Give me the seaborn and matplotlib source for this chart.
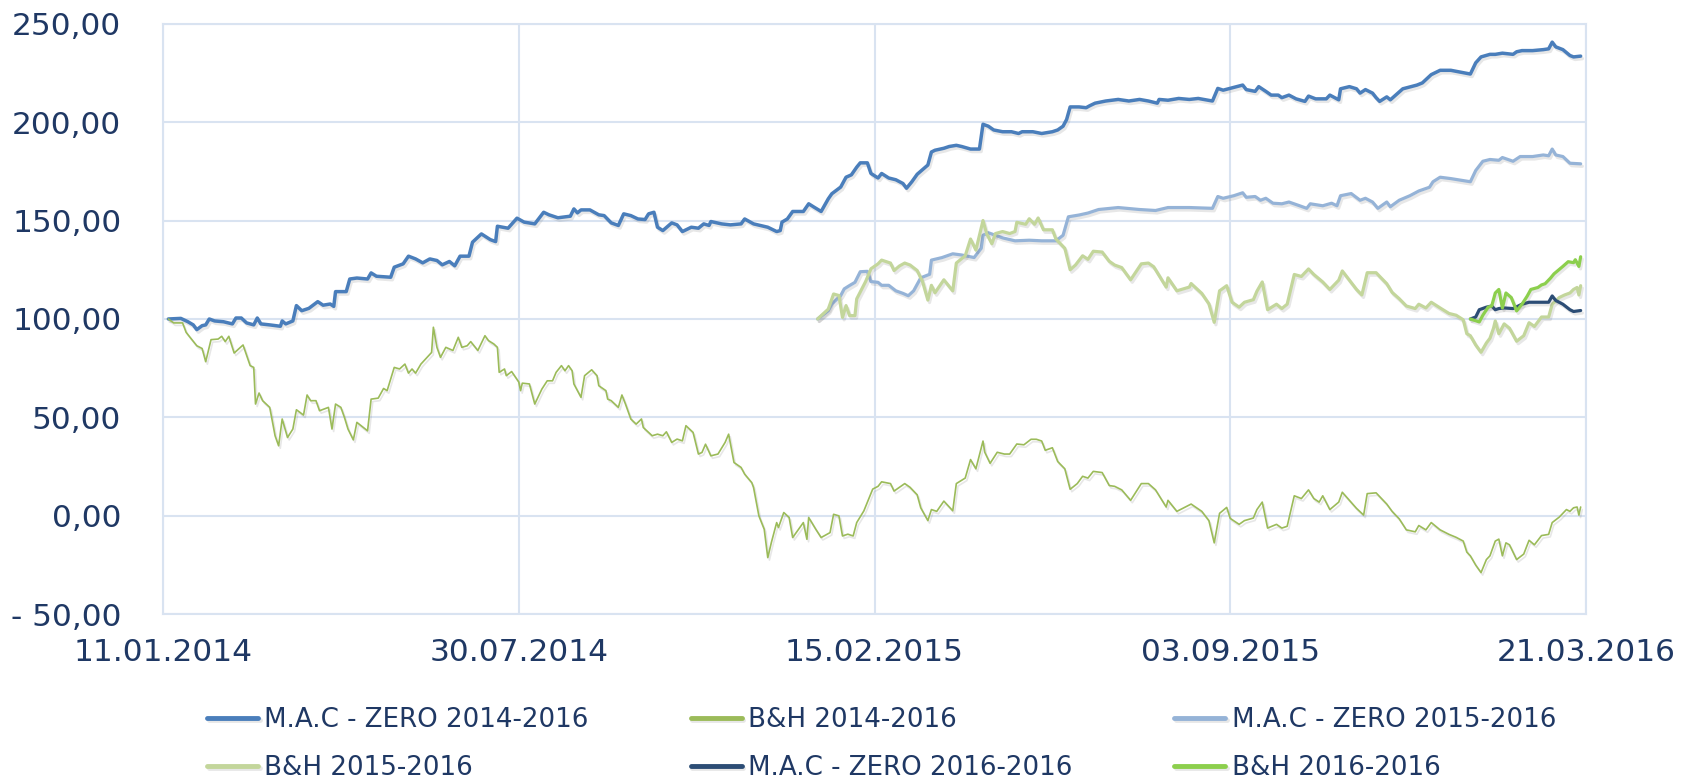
import matplotlib
matplotlib.use('Agg')
import matplotlib.pyplot as plt
import matplotlib.dates as mdates
import matplotlib.patheffects as pe
from matplotlib.ticker import FuncFormatter
import pandas as pd
import seaborn as sns

# series values (day = days after 11.01.2014)
mac14_days = [3, 10, 14, 17, 19, 22, 24, 26, 29, 34, 39, 41, 44, 47, 51, 53, 55, 60, 66, 67,
              69, 73, 75, 78, 82, 87, 90, 94, 96, 97, 103, 105, 109, 115, 117, 120, 128, 130, 135, 138,
              142, 146, 150, 154, 157, 161, 164, 167, 172, 174, 179, 184, 187, 188, 194, 199, 203, 209, 214, 217,
              222, 229, 231, 233, 235, 240, 245, 248, 252, 256, 259, 263, 267, 271, 273, 276, 278, 281, 286, 289,
              292, 297, 301, 304, 307, 308, 314, 319, 325, 327, 332, 340, 345, 347, 348, 351, 354, 360, 363, 366,
              370, 374, 376, 381, 384, 387, 390, 392, 396, 398, 402, 404, 408, 412, 416, 418, 421, 424, 430, 432,
              434, 439, 442, 446, 449, 454, 459, 460, 461, 464, 467, 472, 477, 481, 483, 489, 494, 500, 503, 506,
              508, 510, 515, 519, 521, 524, 530, 537, 543, 549, 554, 559, 560, 565, 571, 577, 582, 590, 593, 596,
              602, 607, 609, 614, 616, 620, 623, 627, 629, 633, 637, 642, 644, 648, 654, 656, 661, 662, 667, 671,
              673, 676, 680, 682, 684, 688, 690, 693, 697, 705, 708, 713, 718, 724, 735, 738, 741, 746, 749, 753,
              759, 761, 764, 770, 776, 779, 781, 783, 787, 791, 793, 797]
mac14_vals = [100.0, 100.3, 98.6, 97.0, 94.6, 96.6, 97.0, 100.0, 99.0, 98.6, 97.5, 100.5, 100.5, 98.0, 97.0, 100.5, 97.5, 97.0, 96.3, 99.0,
              97.5, 99.0, 106.8, 104.2, 105.4, 108.8, 107.0, 107.6, 106.4, 113.9, 113.9, 120.3, 120.8, 120.3, 123.4, 121.7, 121.2, 126.3, 128.0, 131.9,
              130.5, 128.5, 130.5, 129.7, 127.5, 129.2, 127.0, 131.9, 131.9, 139.0, 143.2, 140.3, 139.3, 147.1, 146.1, 151.2, 149.2, 148.3, 154.2, 152.9,
              151.4, 152.2, 155.9, 153.9, 155.4, 155.4, 152.9, 152.5, 148.8, 147.5, 153.4, 152.5, 150.8, 150.5, 153.4, 154.2, 146.6, 144.9, 148.8, 147.8,
              144.4, 146.6, 146.1, 148.3, 147.5, 149.5, 148.3, 147.8, 148.3, 150.8, 148.3, 146.6, 144.4, 144.9, 149.2, 150.8, 154.6, 154.6, 158.5, 156.8,
              154.6, 161.0, 163.6, 167.0, 172.0, 173.2, 177.1, 179.3, 179.3, 173.9, 171.6, 173.9, 171.6, 170.7, 168.8, 166.4, 169.7, 173.5, 178.2, 184.8,
              185.7, 186.7, 187.6, 188.2, 187.6, 186.3, 186.3, 192.7, 198.9, 197.9, 196.0, 195.1, 195.1, 194.2, 195.1, 195.1, 194.2, 195.1, 196.0, 197.9,
              201.3, 207.7, 207.7, 207.3, 208.3, 209.6, 210.7, 211.5, 210.7, 211.5, 210.7, 209.6, 211.5, 211.1, 212.0, 211.5, 212.0, 210.7, 217.1, 216.2,
              217.6, 218.8, 216.5, 215.6, 218.0, 215.6, 213.7, 213.7, 212.4, 213.7, 211.8, 210.5, 213.2, 211.8, 211.8, 213.7, 211.3, 216.9, 218.0, 216.9,
              214.7, 216.5, 214.7, 212.4, 210.5, 212.8, 211.3, 213.7, 216.9, 218.8, 219.9, 224.1, 226.3, 226.3, 224.4, 230.1, 233.1, 234.4, 234.4, 235.0,
              234.4, 235.7, 236.3, 236.3, 236.8, 237.2, 240.6, 238.2, 236.8, 233.8, 233.1, 233.5]

bh14_days = [3, 6, 11, 13, 19, 22, 24, 27, 31, 33, 35, 37, 40, 45, 49, 51, 52, 54, 56, 60,
             63, 65, 67, 70, 73, 75, 79, 81, 83, 86, 88, 93, 95, 97, 100, 102, 104, 107, 109, 115,
             117, 121, 124, 126, 130, 133, 136, 138, 140, 142, 145, 151, 152, 154, 156, 159, 163, 166, 168, 171,
             173, 177, 181, 183, 186, 188, 189, 192, 193, 196, 200, 201, 202, 206, 209, 213, 216, 219, 221, 224,
             226, 228, 230, 231, 235, 237, 241, 244, 245, 249, 250, 252, 256, 258, 260, 263, 266, 269, 270, 273,
             275, 278, 281, 283, 286, 289, 292, 294, 298, 301, 303, 305, 308, 312, 316, 318, 321, 325, 327, 331,
             332, 335, 338, 340, 342, 345, 346, 349, 352, 354, 360, 362, 363, 367, 370, 375, 377, 380, 382, 385,
             388, 390, 394, 399, 402, 404, 409, 411, 414, 417, 420, 424, 426, 430, 432, 435, 439, 444, 446, 451,
             454, 457, 461, 462, 465, 469, 473, 476, 480, 484, 488, 491, 494, 496, 500, 503, 507, 510, 514, 517,
             520, 523, 528, 532, 535, 539, 544, 550, 554, 558, 564, 565, 570, 578, 584, 588, 591, 594, 598, 600,
             605, 608, 613, 615, 618, 621, 626, 629, 632, 636, 640, 644, 647, 650, 652, 656, 661, 663, 667, 671,
             675, 677, 682, 688, 691, 695, 699, 704, 706, 710, 713, 718, 723, 727, 731, 733, 735, 738, 741, 744,
             746, 749, 751, 753, 755, 757, 761, 765, 768, 771, 775, 779, 781, 785, 789, 791, 793, 795, 796, 797]
bh14_vals = [100.0, 98.0, 98.0, 93.2, 86.4, 85.0, 78.3, 89.5, 89.8, 91.2, 88.5, 91.2, 82.7, 86.8, 76.3, 75.4, 56.8, 62.4, 58.5, 55.1,
             40.7, 35.6, 49.2, 39.8, 44.1, 53.9, 51.2, 61.4, 58.5, 58.5, 53.4, 55.1, 44.1, 56.8, 55.1, 50.0, 44.1, 38.6, 47.5, 43.2,
             59.3, 59.8, 64.7, 63.6, 75.4, 74.6, 77.1, 72.5, 74.6, 72.5, 77.1, 83.0, 95.8, 85.6, 80.5, 85.6, 84.0, 90.7, 85.6, 86.4,
             88.5, 84.0, 91.5, 89.0, 87.3, 85.6, 72.9, 74.6, 71.2, 73.3, 68.0, 63.6, 67.4, 67.0, 56.8, 64.4, 68.6, 68.6, 72.9, 76.3,
             73.7, 76.3, 73.7, 67.0, 60.2, 71.2, 74.2, 71.2, 66.1, 63.6, 59.3, 58.5, 55.1, 61.4, 56.8, 49.2, 46.6, 49.2, 44.9, 42.4,
             40.7, 41.5, 40.7, 42.7, 37.3, 39.0, 38.1, 45.8, 42.4, 31.4, 32.2, 36.4, 30.5, 31.4, 37.3, 41.5, 27.1, 24.6, 21.2, 16.9,
             14.4, 0.0, -6.8, -21.2, -13.6, -3.4, -5.9, 1.7, -0.8, -11.0, -3.4, -11.9, -0.8, -6.8, -11.0, -8.5, 0.8, 0.0, -10.2, -9.3,
             -10.2, -3.4, 2.5, 13.6, 15.0, 17.3, 16.4, 12.6, 14.5, 16.4, 14.5, 10.7, 4.1, -2.4, 3.2, 2.3, 7.5, 2.6, 16.4, 19.2,
             28.6, 23.9, 38.0, 32.3, 26.7, 32.3, 31.4, 31.4, 36.5, 36.1, 38.9, 38.9, 38.0, 33.3, 34.6, 27.6, 23.9, 13.5, 16.4, 20.1,
             19.2, 22.6, 22.0, 15.4, 15.0, 13.2, 7.9, 16.4, 16.4, 13.2, 4.5, 7.9, 2.3, 6.0, 2.3, -2.4, -13.7, 1.3, 4.3, -1.3,
             -4.3, -2.4, -1.1, 3.2, 7.0, -6.2, -4.3, -6.2, -5.3, 10.2, 8.8, 13.2, 8.8, 7.0, 10.2, 3.2, 7.0, 12.0, 7.9, 3.8,
             0.4, 11.3, 11.7, 6.0, 2.3, -1.5, -7.1, -8.1, -4.9, -7.1, -3.4, -7.1, -9.4, -10.9, -12.8, -18.4, -20.3, -25.0, -28.8, -22.2,
             -20.3, -12.8, -11.8, -20.3, -13.7, -14.7, -22.2, -19.4, -12.4, -14.7, -10.0, -9.4, -3.4, -0.6, 3.2, 2.3, 4.1, 4.5, 0.4, 4.5]

mac15_days = [368, 374, 376, 381, 383, 386, 389, 392, 396, 398, 402, 404, 408, 412, 416, 419, 422, 426, 431, 432,
              438, 444, 449, 456, 460, 461, 464, 472, 479, 487, 494, 502, 506, 509, 515, 520, 526, 537, 549, 558,
              565, 577, 590, 593, 596, 602, 607, 609, 614, 617, 620, 624, 629, 633, 639, 643, 645, 652, 657, 660,
              662, 668, 673, 676, 680, 683, 688, 690, 695, 701, 706, 712, 714, 718, 724, 735, 738, 742, 746, 751,
              753, 759, 763, 770, 776, 779, 781, 783, 787, 791, 797]
mac15_vals = [100.0, 104.2, 107.6, 111.9, 115.3, 117.0, 118.6, 124.0, 124.2, 119.0, 118.6, 117.1, 117.1, 114.3, 113.0, 111.8, 114.3, 120.9, 122.7, 129.9,
              131.2, 133.1, 132.5, 131.2, 135.9, 142.5, 143.8, 141.2, 139.7, 140.0, 139.7, 139.7, 142.5, 151.9, 152.8, 153.8, 155.6, 156.6, 155.6, 155.1,
              156.6, 156.6, 156.2, 162.2, 161.3, 162.6, 164.1, 161.8, 162.2, 160.3, 161.3, 158.8, 158.5, 159.4, 157.5, 156.2, 158.5, 157.5, 158.8, 157.5,
              162.6, 163.7, 160.3, 161.3, 159.4, 156.2, 159.4, 157.0, 160.3, 162.6, 165.0, 166.9, 169.7, 172.0, 171.3, 169.7, 175.4, 180.1, 181.0, 180.6,
              182.0, 180.1, 182.5, 182.5, 183.3, 182.9, 186.3, 183.3, 182.5, 179.1, 178.8]

bh15_days = [368, 374, 377, 380, 382, 384, 386, 389, 390, 395, 398, 402, 404, 409, 411, 414, 417, 420, 424, 427,
             430, 432, 434, 439, 444, 446, 451, 454, 457, 461, 463, 466, 468, 472, 476, 479, 480, 485, 487, 490,
             492, 495, 500, 502, 507, 510, 513, 517, 520, 523, 528, 532, 535, 539, 544, 550, 554, 557, 564, 565,
             570, 577, 578, 584, 588, 591, 594, 598, 601, 605, 608, 613, 615, 618, 621, 626, 629, 632, 636, 640,
             644, 647, 652, 656, 661, 663, 667, 671, 674, 677, 682, 688, 691, 695, 699, 704, 706, 710, 713, 718,
             723, 727, 731, 733, 735, 738, 741, 744, 746, 748, 749, 751, 754, 757, 761, 765, 768, 771, 775, 779,
             781, 785, 788, 791, 793, 795, 796, 797]
bh15_vals = [100.0, 105.0, 112.7, 111.9, 100.8, 106.8, 101.7, 101.7, 110.2, 119.0, 125.5, 128.0, 129.9, 128.4, 124.6, 126.9, 128.4, 127.4, 124.6, 119.0,
             109.6, 117.1, 113.3, 119.9, 114.3, 128.4, 132.1, 140.6, 135.0, 150.0, 143.4, 138.2, 143.4, 144.4, 143.4, 144.4, 149.1, 148.1, 150.9, 148.1,
             151.3, 145.3, 145.3, 140.6, 135.9, 125.0, 127.4, 132.1, 130.3, 134.4, 134.0, 129.3, 127.4, 126.1, 119.9, 128.0, 128.4, 126.5, 116.2, 120.9,
             114.3, 116.2, 118.0, 113.0, 107.7, 98.3, 114.3, 116.9, 108.5, 106.0, 108.5, 109.8, 114.1, 118.8, 104.7, 107.5, 105.3, 107.5, 122.6, 121.6,
             125.4, 122.6, 118.8, 115.0, 119.7, 124.4, 119.7, 115.0, 112.2, 123.5, 123.5, 117.9, 113.5, 110.3, 106.6, 105.3, 107.5, 105.6, 108.5, 105.6,
             102.8, 101.9, 99.6, 92.5, 91.5, 86.8, 83.1, 87.8, 90.2, 95.3, 99.0, 92.5, 97.5, 95.3, 88.7, 91.5, 98.1, 96.2, 101.0, 101.0,
             107.5, 110.9, 112.2, 113.2, 115.0, 116.0, 112.2, 116.9]

mac16_days = [735, 738, 740, 744, 747, 749, 751, 754, 759, 764, 768, 774, 779, 781, 783, 787, 791, 793, 797]
mac16_vals = [100.0, 101.0, 104.7, 106.0, 106.6, 104.7, 105.3, 105.6, 105.3, 107.5, 108.5, 108.5, 108.5, 111.7, 109.4, 107.5, 104.7, 103.8, 104.3]

bh16_days = [735, 740, 742, 745, 747, 749, 751, 753, 755, 758, 761, 764, 767, 769, 773, 775, 777, 780, 782, 787,
             790, 793, 794, 796, 797]
bh16_vals = [100.0, 98.5, 101.9, 106.0, 106.6, 113.2, 115.0, 105.6, 113.2, 110.9, 104.1, 107.5, 111.7, 115.0, 116.0, 117.3, 117.9, 120.7, 122.9, 126.7,
             129.1, 128.6, 130.1, 126.7, 131.6]

series_labels = ['M.A.C - ZERO 2014-2016', 'B&H 2014-2016', 'M.A.C - ZERO 2015-2016',
                 'B&H 2015-2016', 'M.A.C - ZERO 2016-2016', 'B&H 2016-2016']
tick_dates = ['2014-01-11', '2014-07-30', '2015-02-15', '2015-09-03', '2016-03-21']

start = pd.Timestamp('2014-01-11')

sns.set_theme(style='white')
plt.rcParams['font.family'] = ['DejaVu Sans']

txt_color = '#1F3864'
grid_color = '#D9E3F1'

fig = plt.figure(figsize=(16.84, 7.80), dpi=100)
ax = fig.add_axes([0.0968, 0.2124, 0.8450, 0.7573])

series = [
    (mac14_days, mac14_vals, '#4A7EBB', 2.5),
    (bh14_days, bh14_vals, '#9BBB59', 1.2),
    (mac15_days, mac15_vals, '#95B3D7', 2.3),
    (bh15_days, bh15_vals, '#C3D69B', 2.3),
    (mac16_days, mac16_vals, '#2C4D75', 2.3),
    (bh16_days, bh16_vals, '#8CCF4D', 2.3),
]

# soft drop shadow like the excel line effect
shadow = [pe.SimpleLineShadow(offset=(1.2, -1.8), shadow_color='#606060', alpha=0.15), pe.Normal()]

for (days, vals, color, lw), label in zip(series, series_labels):
    df = pd.DataFrame({'date': start + pd.to_timedelta(days, unit='D'), 'value': vals})
    sns.lineplot(data=df, x='date', y='value', ax=ax, color=color, linewidth=lw,
                 label=label, estimator=None, path_effects=shadow)

ax.set_xlim(start, start + pd.Timedelta(days=800))
ax.set_xticks(pd.to_datetime(tick_dates))
ax.xaxis.set_major_formatter(mdates.DateFormatter('%d.%m.%Y'))

ax.set_ylim(-50, 250)
ax.set_yticks(range(-50, 251, 50))
ax.yaxis.set_major_formatter(FuncFormatter(
    lambda v, p: ('- ' if v < 0 else '') + f'{abs(v):.2f}'.replace('.', ',')))

ax.grid(True, color=grid_color, linewidth=1.5)
ax.set_axisbelow(True)
for sp in ax.spines.values():
    sp.set_color(grid_color)
    sp.set_linewidth(1.5)

ax.tick_params(axis='both', length=0, labelsize=22.5, labelcolor=txt_color)
ax.tick_params(axis='y', pad=30)
ax.tick_params(axis='x', pad=17)
ax.set_xlabel('')
ax.set_ylabel('')

handles, labels = ax.get_legend_handles_labels()
order = [0, 3, 1, 4, 2, 5]
leg = fig.legend([handles[i] for i in order], [labels[i] for i in order],
                 loc='center', bbox_to_anchor=(0.5235, 0.0462), ncol=3, frameon=False,
                 fontsize=18.8, handlelength=1.95, handletextpad=0.25,
                 columnspacing=3.9, labelspacing=0.85, borderpad=0)
for t in leg.get_texts():
    t.set_color(txt_color)
for h in leg.legend_handles:
    h.set_linewidth(3.5)
ax.get_legend().remove()

fig.savefig('out.png', dpi=100)
